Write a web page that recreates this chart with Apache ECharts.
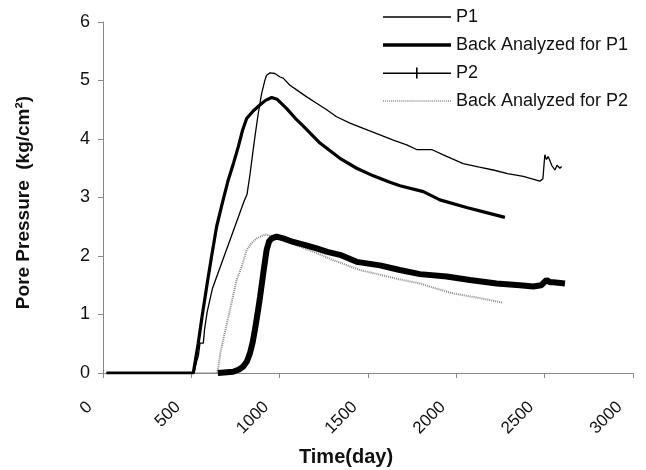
<!DOCTYPE html>
<html>
<head>
<meta charset="utf-8">
<script src="https://cdn.jsdelivr.net/npm/echarts@6/dist/echarts.min.js"></script>
<style>
  html, body { margin: 0; padding: 0; background: #fff; }
  #chart { width: 646px; height: 470px; }
</style>
</head>
<body>
<div id="chart"></div>
<script>
// tick values
const xTicks = [0, 500, 1000, 1500, 2000, 2500, 3000];
const yTicks = [0, 1, 2, 3, 4, 5, 6];

// [time (day), pore pressure (kg/cm2)]
const p1 = [
  [20, 0], [515, 0], [530, 0.2], [540, 0.3], [549, 0.51], [568, 0.51], [575, 0.75],
  [590, 1.05], [620, 1.45], [680, 1.95], [740, 2.45], [800, 2.95], [815, 3.05],
  [830, 3.35], [845, 3.7], [860, 4.04], [879, 4.44], [898, 4.78], [917, 5.01],
  [926, 5.09], [945, 5.13], [973, 5.12], [1002, 5.06], [1020, 5.04], [1058, 4.92],
  [1096, 4.84], [1153, 4.72], [1209, 4.61], [1266, 4.50], [1322, 4.38], [1398, 4.27],
  [1473, 4.18], [1568, 4.07], [1643, 3.98], [1719, 3.90], [1775, 3.82], [1860, 3.82],
  [1926, 3.73], [2039, 3.58], [2130, 3.52], [2209, 3.47], [2290, 3.41], [2379, 3.36],
  [2473, 3.28], [2490, 3.32], [2501, 3.73], [2510, 3.65], [2520, 3.70], [2540, 3.55],
  [2558, 3.47], [2570, 3.55], [2586, 3.50], [2596, 3.53]
];
const backP1 = [
  [20, 0], [511, 0], [539, 0.51], [560, 0.95], [587, 1.48], [615, 2.0], [643, 2.50],
  [675, 2.90], [709, 3.30], [740, 3.60], [766, 3.87], [790, 4.15], [813, 4.35],
  [850, 4.48], [888, 4.58], [920, 4.66], [955, 4.71], [985, 4.68], [1040, 4.52],
  [1096, 4.33], [1134, 4.22], [1228, 3.93], [1341, 3.67], [1436, 3.50], [1530, 3.37],
  [1624, 3.26], [1681, 3.20], [1813, 3.10], [1907, 2.96], [2058, 2.83], [2160, 2.75],
  [2275, 2.66]
];
const p2 = [
  [650, 0], [737, 0.02], [770, 0.06], [794, 0.11], [815, 0.2], [832, 0.34], [847, 0.52],
  [860, 0.74], [875, 1.02], [889, 1.30], [907, 1.70], [926, 2.10], [940, 2.25],
  [955, 2.30], [983, 2.33], [1020, 2.30], [1077, 2.24], [1140, 2.19], [1209, 2.13],
  [1270, 2.07], [1341, 2.02], [1436, 1.90], [1568, 1.84], [1680, 1.76], [1794, 1.69],
  [1945, 1.65], [2077, 1.59], [2228, 1.53], [2360, 1.50], [2435, 1.48], [2480, 1.50],
  [2511, 1.59], [2530, 1.55], [2548, 1.55], [2615, 1.53]
];
const backP2 = [
  [20, 0], [643, 0], [650, 0.05], [665, 0.35], [690, 0.70], [719, 1.08], [756, 1.59],
  [785, 1.82], [813, 2.10], [840, 2.22], [870, 2.30], [917, 2.37], [1000, 2.30],
  [1115, 2.16], [1210, 2.05], [1303, 1.93], [1454, 1.76], [1568, 1.68], [1680, 1.60],
  [1794, 1.53], [1890, 1.44], [1982, 1.36], [2134, 1.28], [2265, 1.20]
];

// legend icons drawn as paths (plain line, thick line, line with tick, dotted line)
let dots = '';
for (let i = 0; i < 68; i += 2) dots += 'M' + i + ',0 L' + (i + 1) + ',0 L' + (i + 1) + ',1.6 L' + i + ',1.6 Z ';
const icons = {
  thin: 'path://M0,0 L68,0 L68,1.4 L0,1.4 Z',
  thick: 'path://M0,0 L68,0 L68,3.6 L0,3.6 Z',
  tick: 'path://M0,5 L68,5 L68,6.4 L0,6.4 Z M33,0 L34.6,0 L34.6,11 L33,11 Z',
  dotted: 'path://' + dots
};

const chart = echarts.init(document.getElementById('chart'));
const font = 'Liberation Sans, Arial, sans-serif';

chart.setOption({
  animation: false,
  backgroundColor: '#fff',
  textStyle: { fontFamily: font, color: '#111' },
  grid: { left: 103, right: 13, top: 22, bottom: 97, outerBoundsMode: 'none' },
  legend: {
    orient: 'vertical',
    left: 383,
    top: 8,
    padding: 0,
    itemWidth: 68,
    itemHeight: 12,
    itemGap: 10,
    symbolKeepAspect: true,
    itemStyle: { borderWidth: 0 },
    textStyle: { fontSize: 18, color: '#111', fontFamily: font },
    data: [
      { name: 'P1', icon: icons.thin },
      { name: 'Back Analyzed for P1', icon: icons.thick },
      { name: 'P2', icon: icons.tick },
      { name: 'Back Analyzed for P2', icon: icons.dotted }
    ]
  },
  xAxis: {
    type: 'value',
    min: xTicks[0],
    max: xTicks[xTicks.length - 1],
    interval: 500,
    name: 'Time(day)',
    nameLocation: 'middle',
    nameGap: 74,
    nameTextStyle: { fontSize: 20, fontWeight: 'bold', color: '#111', padding: [0, 44, 0, 0] },
    axisLine: { lineStyle: { color: '#888' } },
    axisTick: { lineStyle: { color: '#888' }, length: 5 },
    splitLine: { show: false },
    axisLabel: {
      rotate: 45, fontSize: 17, color: '#111', margin: 18, padding: [0, 19, 0, 0],
      formatter: v => String(v)
    }
  },
  yAxis: {
    type: 'value',
    min: yTicks[0],
    max: yTicks[yTicks.length - 1],
    interval: 1,
    name: 'Pore Pressure  (kg/cm\u00b2)',
    nameLocation: 'middle',
    nameGap: 70,
    nameTextStyle: { fontSize: 19, fontWeight: 'bold', color: '#111', padding: [0, 10, 0, 0] },
    axisLine: { show: true, lineStyle: { color: '#888' } },
    axisTick: { show: true, lineStyle: { color: '#888' }, length: 5 },
    splitLine: { show: false },
    axisLabel: { fontSize: 18, color: '#111', margin: 13 }
  },
  series: [
    {
      name: 'P1', type: 'line', data: p1, symbol: 'none', z: 3,
      lineStyle: { color: '#000', width: 1.3 }, itemStyle: { color: '#000' }
    },
    {
      name: 'Back Analyzed for P1', type: 'line', data: backP1, symbol: 'none', z: 4,
      lineStyle: { color: '#000', width: 3.2 }, itemStyle: { color: '#000' }
    },
    {
      name: 'P2', type: 'line', data: p2, symbol: 'none', z: 5,
      lineStyle: { color: '#000', width: 6 }, itemStyle: { color: '#000' }
    },
    {
      name: 'Back Analyzed for P2', type: 'line', data: backP2, symbol: 'none', z: 2,
      lineStyle: { color: '#8a8a8a', width: 2, type: [1, 1] }, itemStyle: { color: '#8a8a8a' }
    }
  ]
});
</script>
</body>
</html>
